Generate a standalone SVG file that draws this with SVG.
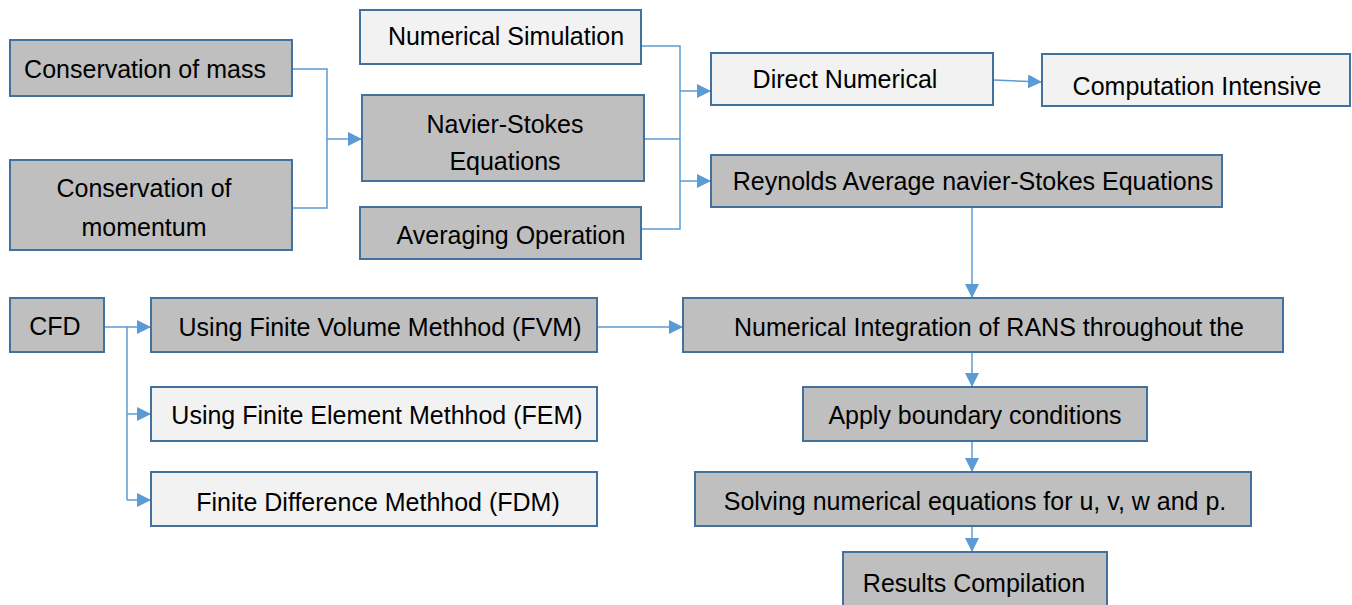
<svg xmlns="http://www.w3.org/2000/svg" width="1352" height="605" viewBox="0 0 1352 605">
<style>
.g{fill:#bfbfbf;stroke:#41719c;stroke-width:2}
.l{fill:#f2f2f2;stroke:#41719c;stroke-width:2}
text{font-family:"Liberation Sans",Arial,sans-serif;font-size:25px;fill:#000;text-anchor:middle;dominant-baseline:central}
.c{fill:none;stroke:#5b9bd5;stroke-width:1.5}
</style>
<defs>
<marker id="b" viewBox="0 0 10 10" refX="10" refY="5" markerWidth="14" markerHeight="14" markerUnits="userSpaceOnUse" orient="auto">
<path d="M0,0 L10,5 L0,10 z" fill="#5b9bd5"/>
</marker>
</defs>
<rect width="1352" height="605" fill="#fff"/>
<g id="connectors">
<path class="c" d="M292,69 H327 V208 H292"/>
<path class="c" d="M327,139 H362" marker-end="url(#b)"/>
<path class="c" d="M641,46 H680 V229 H641"/>
<path class="c" d="M644,139 H680"/>
<path class="c" d="M680,91 H711" marker-end="url(#b)"/>
<path class="c" d="M680,181 H711" marker-end="url(#b)"/>
<path class="c" d="M993,80 L1042,82" marker-end="url(#b)"/>
<path class="c" d="M972,207 V298" marker-end="url(#b)"/>
<path class="c" d="M104,327 H127 V500"/>
<path class="c" d="M127,327 H151" marker-end="url(#b)"/>
<path class="c" d="M127,414 H151" marker-end="url(#b)"/>
<path class="c" d="M127,500 H151" marker-end="url(#b)"/>
<path class="c" d="M597,327 H683" marker-end="url(#b)"/>
<path class="c" d="M972,352 V387" marker-end="url(#b)"/>
<path class="c" d="M972,441 V472" marker-end="url(#b)"/>
<path class="c" d="M972,526 V552" marker-end="url(#b)"/>
</g>
<g id="n1"><rect class="g" x="10" y="40" width="282" height="56"/><text x="145" y="69">Conservation of mass</text></g>
<g id="n2"><rect class="g" x="10" y="160" width="282" height="90"/><text x="144" y="188">Conservation of</text><text x="144" y="227">momentum</text></g>
<g id="n3"><rect class="l" x="360" y="10" width="281" height="54"/><text x="506" y="36">Numerical Simulation</text></g>
<g id="n4"><rect class="g" x="362" y="95" width="282" height="86"/><text x="505" y="124">Navier-Stokes</text><text x="505" y="161">Equations</text></g>
<g id="n5"><rect class="g" x="360" y="207" width="281" height="52"/><text x="511" y="235">Averaging Operation</text></g>
<g id="n6"><rect class="l" x="711" y="53" width="282" height="52"/><text x="845" y="79">Direct Numerical</text></g>
<g id="n7"><rect class="l" x="1042" y="54" width="308" height="52"/><text x="1197" y="86">Computation Intensive</text></g>
<g id="n8"><rect class="g" x="711" y="155" width="511" height="52"/><text x="973" y="181">Reynolds Average navier-Stokes Equations</text></g>
<g id="n9"><rect class="g" x="10" y="298" width="94" height="54"/><text x="55" y="326">CFD</text></g>
<g id="n10"><rect class="g" x="151" y="298" width="446" height="54"/><text x="380" y="327">Using Finite Volume Methhod (FVM)</text></g>
<g id="n11"><rect class="l" x="151" y="387" width="446" height="54"/><text x="377" y="415">Using Finite Element Methhod (FEM)</text></g>
<g id="n12"><rect class="l" x="151" y="472" width="446" height="54"/><text x="378" y="502">Finite Difference Methhod (FDM)</text></g>
<g id="n13"><rect class="g" x="683" y="298" width="600" height="54"/><text x="989" y="327">Numerical Integration of RANS throughout the</text></g>
<g id="n14"><rect class="g" x="803" y="387" width="344" height="54"/><text x="975" y="415">Apply boundary conditions</text></g>
<g id="n15"><rect class="g" x="695" y="472" width="556" height="54"/><text x="975" y="501">Solving numerical equations for u, v, w and p.</text></g>
<g id="n16"><rect class="g" x="843" y="552" width="264" height="60"/><text x="974" y="583">Results Compilation</text></g>
</svg>
